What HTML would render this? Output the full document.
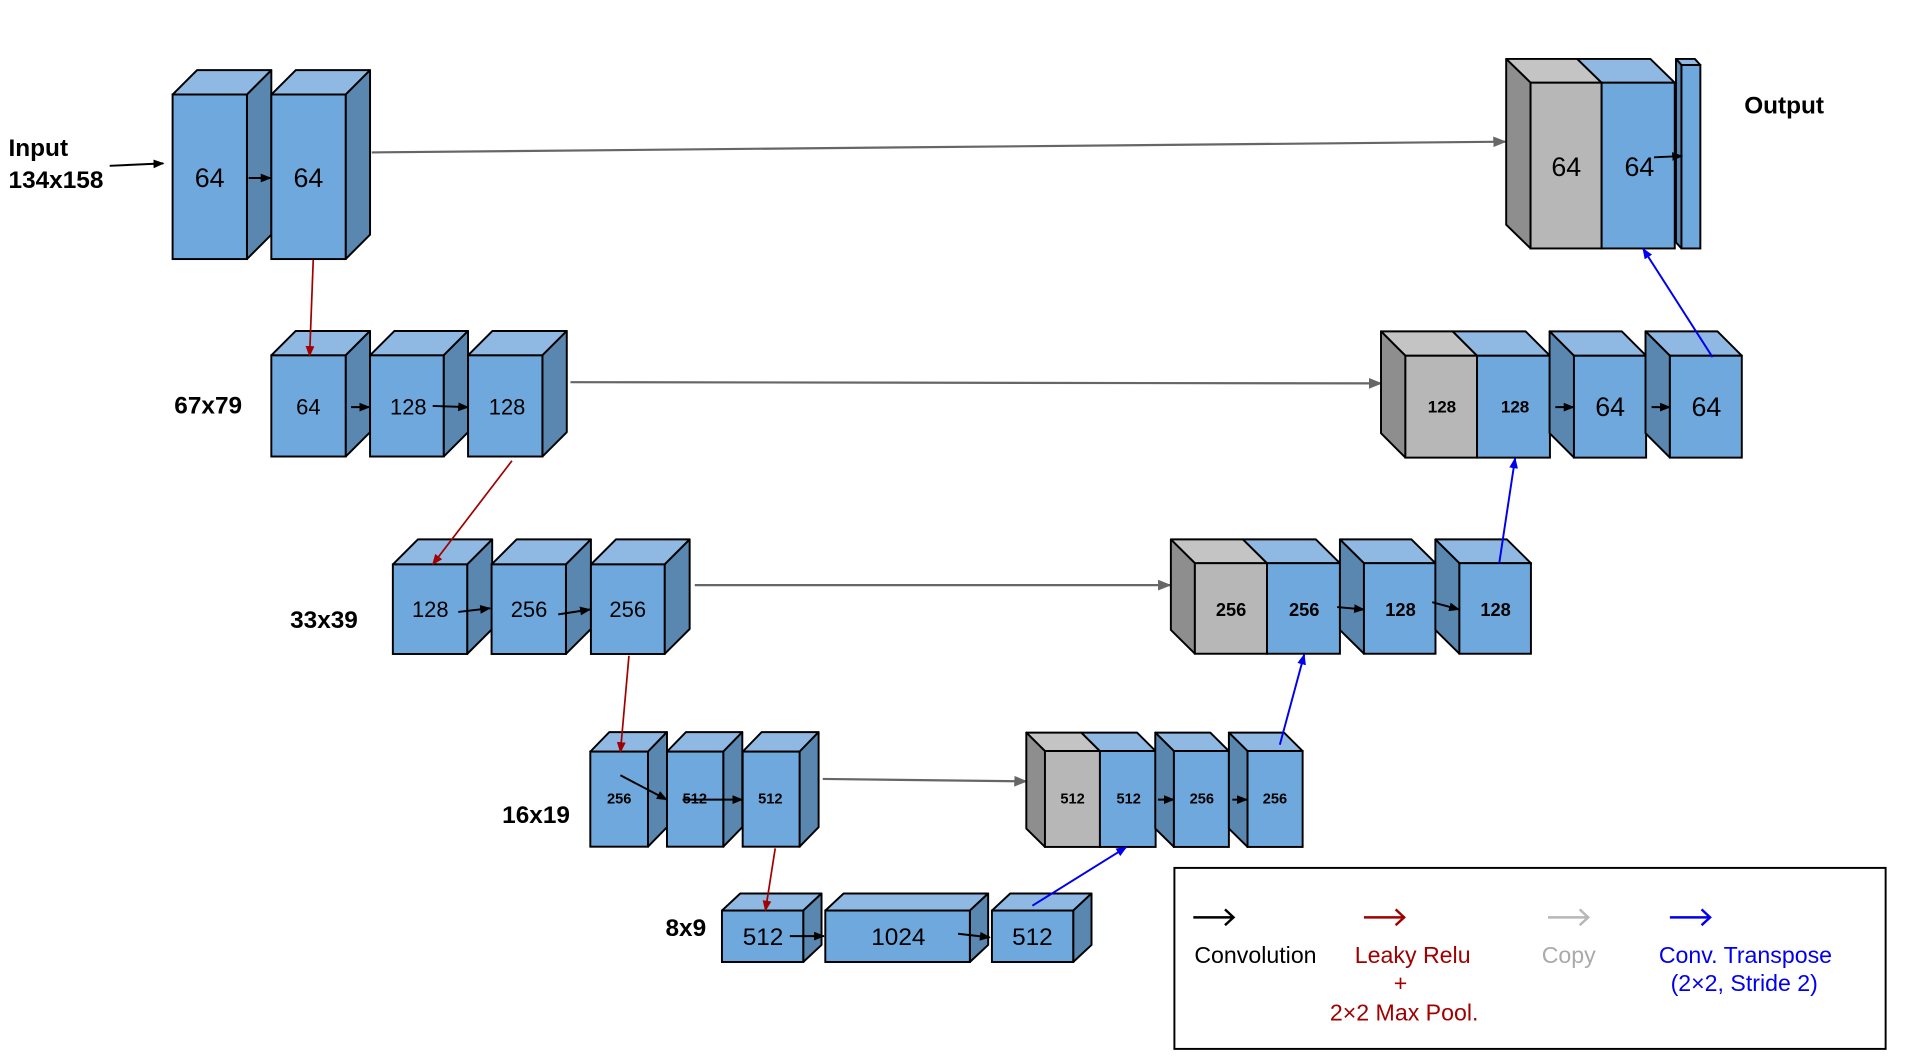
<!DOCTYPE html>
<html><head><meta charset="utf-8"><style>
html,body{margin:0;padding:0;background:#fff;}
svg{display:block;}
text{font-family:"Liberation Sans",Arial,sans-serif;}
.f{fill:#6fa8dc;stroke:#000;stroke-width:1.6;}
.t{fill:#8fb9e3;stroke:#000;stroke-width:1.6;stroke-linejoin:round;}
.s{fill:#5a87b0;stroke:#000;stroke-width:1.6;stroke-linejoin:round;}
.gf{fill:#b7b7b7;stroke:#000;stroke-width:1.6;}
.gt{fill:#c4c4c4;stroke:#000;stroke-width:1.6;stroke-linejoin:round;}
.gs{fill:#8e8e8e;stroke:#000;stroke-width:1.6;stroke-linejoin:round;}
.l{text-anchor:middle;dominant-baseline:central;fill:#000;}
.b{font-weight:bold;}
</style></head><body>
<svg width="1910" height="1062" viewBox="0 0 1567 871.2" xmlns="http://www.w3.org/2000/svg">
<defs>
<marker id="mk" viewBox="0 0 10 10" refX="9" refY="5" markerWidth="9" markerHeight="9" markerUnits="userSpaceOnUse" orient="auto"><path d="M0,1 L10,5 L0,9 z" fill="#000"/></marker>
<marker id="mr" viewBox="0 0 10 10" refX="9" refY="5" markerWidth="9" markerHeight="9" markerUnits="userSpaceOnUse" orient="auto"><path d="M0,1 L10,5 L0,9 z" fill="#a00000"/></marker>
<marker id="mb" viewBox="0 0 10 10" refX="9" refY="5" markerWidth="9" markerHeight="9" markerUnits="userSpaceOnUse" orient="auto"><path d="M0,1 L10,5 L0,9 z" fill="#0000ee"/></marker>
<marker id="mg" viewBox="0 0 10 10" refX="9" refY="5" markerWidth="11" markerHeight="11" markerUnits="userSpaceOnUse" orient="auto"><path d="M0,1 L10,5 L0,9 z" fill="#666"/></marker>
</defs>

<!-- copy arrows -->
<g stroke="#666" stroke-width="1.8" marker-end="url(#mg)">
<line x1="305" y1="125" x2="1235" y2="116.2"/>
<line x1="468" y1="313.5" x2="1133" y2="314.5"/>
<line x1="570" y1="480" x2="960" y2="480"/>
<line x1="675" y1="639" x2="842" y2="641"/>
</g>

<!-- Row 1 encoder -->
<polygon class="t" points="141.6,77.5 161.6,57.5 222.6,57.5 202.6,77.5"/>
<polygon class="s" points="202.6,77.5 222.6,57.5 222.6,192.5 202.6,212.5"/>
<rect class="f" x="141.6" y="77.5" width="61" height="135"/>
<polygon class="t" points="222.6,77.5 242.6,57.5 303.6,57.5 283.6,77.5"/>
<polygon class="s" points="283.6,77.5 303.6,57.5 303.6,192.5 283.6,212.5"/>
<rect class="f" x="222.6" y="77.5" width="61" height="135"/>
<text class="l" x="172" y="146" font-size="22">64</text>
<text class="l" x="253" y="146" font-size="22">64</text>

<!-- Row 2 encoder -->
<polygon class="t" points="222.6,291.5 242.6,271.5 303.6,271.5 283.6,291.5"/>
<polygon class="s" points="283.6,291.5 303.6,271.5 303.6,354.5 283.6,374.5"/>
<rect class="f" x="222.6" y="291.5" width="61" height="83"/>
<polygon class="t" points="303.6,291.5 323.6,271.5 384,271.5 364,291.5"/>
<polygon class="s" points="364,291.5 384,271.5 384,354.5 364,374.5"/>
<rect class="f" x="303.6" y="291.5" width="60.4" height="83"/>
<polygon class="t" points="384,291.5 404,271.5 465,271.5 445,291.5"/>
<polygon class="s" points="445,291.5 465,271.5 465,354.5 445,374.5"/>
<rect class="f" x="384" y="291.5" width="61" height="83"/>
<text class="l" x="253" y="334" font-size="18">64</text>
<text class="l" x="335" y="334" font-size="18">128</text>
<text class="l" x="416" y="334" font-size="18">128</text>

<!-- Row 3 encoder -->
<polygon class="t" points="322.3,463 342.8,442.5 403.8,442.5 383.3,463"/>
<polygon class="s" points="383.3,463 403.8,442.5 403.8,516 383.3,536.5"/>
<rect class="f" x="322.3" y="463" width="61" height="73.5"/>
<polygon class="t" points="403.3,463 423.8,442.5 484.8,442.5 464.3,463"/>
<polygon class="s" points="464.3,463 484.8,442.5 484.8,516 464.3,536.5"/>
<rect class="f" x="403.3" y="463" width="61" height="73.5"/>
<polygon class="t" points="484.8,463 505.3,442.5 565.8,442.5 545.3,463"/>
<polygon class="s" points="545.3,463 565.8,442.5 565.8,516 545.3,536.5"/>
<rect class="f" x="484.8" y="463" width="60.5" height="73.5"/>
<text class="l" x="353" y="500" font-size="18">128</text>
<text class="l" x="434" y="500" font-size="18">256</text>
<text class="l" x="515" y="500" font-size="18">256</text>

<!-- Row 4 encoder -->
<polygon class="t" points="484.3,616.6 499.9,600.6 547.2,600.6 531.6,616.6"/>
<polygon class="s" points="531.6,616.6 547.2,600.6 547.2,678.6 531.6,694.6"/>
<rect class="f" x="484.3" y="616.6" width="47.3" height="78"/>
<polygon class="t" points="547.2,616.6 562.8,600.6 609,600.6 593.4,616.6"/>
<polygon class="s" points="593.4,616.6 609,600.6 609,678.6 593.4,694.6"/>
<rect class="f" x="547.2" y="616.6" width="46.2" height="78"/>
<polygon class="t" points="609.3,616.6 624.9,600.6 671.6,600.6 656,616.6"/>
<polygon class="s" points="656,616.6 671.6,600.6 671.6,678.6 656,694.6"/>
<rect class="f" x="609.3" y="616.6" width="46.7" height="78"/>
<text class="l b" x="508" y="656" font-size="12">256</text>
<text class="l b" x="570" y="656" font-size="12">512</text>
<text class="l b" x="632" y="656" font-size="12">512</text>

<!-- Row 5 -->
<polygon class="t" points="592.3,747 607.3,733 674,733 659,747"/>
<polygon class="s" points="659,747 674,733 674,775.2 659,789.2"/>
<rect class="f" x="592.3" y="747" width="66.7" height="42.2"/>
<polygon class="t" points="677.1,747 692.1,733 810.7,733 795.7,747"/>
<polygon class="s" points="795.7,747 810.7,733 810.7,775.2 795.7,789.2"/>
<rect class="f" x="677.1" y="747" width="118.6" height="42.2"/>
<polygon class="t" points="813.8,747 828.8,733 895.5,733 880.5,747"/>
<polygon class="s" points="880.5,747 895.5,733 895.5,775.2 880.5,789.2"/>
<rect class="f" x="813.8" y="747" width="66.7" height="42.2"/>
<text class="l" x="626" y="769" font-size="20">512</text>
<text class="l" x="737" y="769" font-size="20">1024</text>
<text class="l" x="847" y="769" font-size="20">512</text>

<!-- Output block -->
<polygon class="gt" points="1255.7,67.8 1235.7,48.3 1294,48.3 1314,67.8"/>
<polygon class="gs" points="1255.7,67.8 1235.7,48.3 1235.7,184.3 1255.7,203.8"/>
<rect class="gf" x="1255.7" y="67.8" width="58.3" height="136"/>
<polygon class="t" points="1314,67.8 1294,48.3 1354,48.3 1374,67.8"/>
<rect class="f" x="1314" y="67.8" width="60" height="136"/>
<polygon class="t" points="1379.5,53.3 1375,48.3 1390.5,48.3 1395,53.3"/>
<polygon class="s" points="1379.5,53.3 1375,48.3 1375,198.8 1379.5,203.8"/>
<rect class="f" x="1379.5" y="53.3" width="15.5" height="150.5"/>
<text class="l" x="1285" y="137" font-size="22">64</text>
<text class="l" x="1345" y="137" font-size="22">64</text>
<text x="1431" y="93" font-size="20" class="b">Output</text>

<!-- Row 2 decoder -->
<polygon class="gt" points="1153,291.8 1133,271.8 1191.8,271.8 1211.8,291.8"/>
<polygon class="gs" points="1153,291.8 1133,271.8 1133,355.4 1153,375.4"/>
<rect class="gf" x="1153" y="291.8" width="58.8" height="83.6"/>
<polygon class="t" points="1211.8,291.8 1191.8,271.8 1251.6,271.8 1271.6,291.8"/>
<rect class="f" x="1211.8" y="291.8" width="59.8" height="83.6"/>
<polygon class="t" points="1291.3,291.8 1271.3,271.8 1330.5,271.8 1350.5,291.8"/>
<polygon class="s" points="1291.3,291.8 1271.3,271.8 1271.3,355.4 1291.3,375.4"/>
<rect class="f" x="1291.3" y="291.8" width="59.2" height="83.6"/>
<polygon class="t" points="1370,291.8 1350,271.8 1409,271.8 1429,291.8"/>
<polygon class="s" points="1370,291.8 1350,271.8 1350,355.4 1370,375.4"/>
<rect class="f" x="1370" y="291.8" width="59" height="83.6"/>
<text class="l b" x="1183" y="334" font-size="14">128</text>
<text class="l b" x="1243" y="334" font-size="14">128</text>
<text class="l" x="1321" y="334" font-size="22">64</text>
<text class="l" x="1400" y="334" font-size="22">64</text>

<!-- Row 3 decoder -->
<polygon class="gt" points="980.3,462 960.6,442.5 1019.8,442.5 1039.5,462"/>
<polygon class="gs" points="980.3,462 960.6,442.5 960.6,516.8 980.3,536.3"/>
<rect class="gf" x="980.3" y="462" width="59.2" height="74.3"/>
<polygon class="t" points="1039.5,462 1019.8,442.5 1079.6,442.5 1099.3,462"/>
<rect class="f" x="1039.5" y="462" width="59.8" height="74.3"/>
<polygon class="t" points="1119,462 1099.3,442.5 1158,442.5 1177.7,462"/>
<polygon class="s" points="1119,462 1099.3,442.5 1099.3,516.8 1119,536.3"/>
<rect class="f" x="1119" y="462" width="58.7" height="74.3"/>
<polygon class="t" points="1197.3,462 1177.6,442.5 1236.3,442.5 1256,462"/>
<polygon class="s" points="1197.3,462 1177.6,442.5 1177.6,516.8 1197.3,536.3"/>
<rect class="f" x="1197.3" y="462" width="58.7" height="74.3"/>
<text class="l b" x="1010" y="500" font-size="15">256</text>
<text class="l b" x="1070" y="500" font-size="15">256</text>
<text class="l b" x="1149" y="500" font-size="15">128</text>
<text class="l b" x="1227" y="500" font-size="15">128</text>

<!-- Row 4 decoder -->
<polygon class="gt" points="857.3,616.1 842,601 887.1,601 902.4,616.1"/>
<polygon class="gs" points="857.3,616.1 842,601 842,679.7 857.3,694.8"/>
<rect class="gf" x="857.3" y="616.1" width="45.1" height="78.7"/>
<polygon class="t" points="902.4,616.1 887.1,601 932.8,601 948.1,616.1"/>
<rect class="f" x="902.4" y="616.1" width="45.7" height="78.7"/>
<polygon class="t" points="963.1,616.1 947.8,601 992.9,601 1008.2,616.1"/>
<polygon class="s" points="963.1,616.1 947.8,601 947.8,679.7 963.1,694.8"/>
<rect class="f" x="963.1" y="616.1" width="45.1" height="78.7"/>
<polygon class="t" points="1023.5,616.1 1008.2,601 1053.4,601 1068.7,616.1"/>
<polygon class="s" points="1023.5,616.1 1008.2,601 1008.2,679.7 1023.5,694.8"/>
<rect class="f" x="1023.5" y="616.1" width="45.2" height="78.7"/>
<text class="l b" x="880" y="656" font-size="12">512</text>
<text class="l b" x="926" y="656" font-size="12">512</text>
<text class="l b" x="986" y="656" font-size="12">256</text>
<text class="l b" x="1046" y="656" font-size="12">256</text>

<!-- red arrows -->
<g stroke="#a00000" stroke-width="1.4" marker-end="url(#mr)">
<line x1="257" y1="213" x2="254" y2="292"/>
<line x1="420" y1="378" x2="355" y2="463"/>
<line x1="516" y1="538" x2="509" y2="617"/>
<line x1="636" y1="696" x2="628" y2="747"/>
</g>
<!-- blue arrows -->
<g stroke="#0000ee" stroke-width="1.6" marker-end="url(#mb)">
<line x1="847" y1="743" x2="924" y2="695"/>
<line x1="1050" y1="611" x2="1070" y2="537"/>
<line x1="1230" y1="462" x2="1243" y2="376"/>
<line x1="1405" y1="293" x2="1348" y2="204"/>
</g>
<!-- black conv arrows -->
<g stroke="#000" stroke-width="1.6" marker-end="url(#mk)">
<line x1="90" y1="136" x2="134" y2="134"/>
<line x1="204" y1="146" x2="222" y2="146"/>
<line x1="288" y1="334" x2="303" y2="334"/>
<line x1="355" y1="333" x2="384" y2="334"/>
<line x1="376" y1="502" x2="402" y2="499"/>
<line x1="458" y1="504" x2="484" y2="500"/>
<line x1="509" y1="636" x2="547" y2="656"/>
<line x1="560" y1="656" x2="609" y2="656"/>
<line x1="648" y1="768" x2="676" y2="768"/>
<line x1="786" y1="766" x2="812" y2="769"/>
<line x1="950" y1="656" x2="963" y2="656"/>
<line x1="1011" y1="656" x2="1023" y2="656"/>
<line x1="1097" y1="498" x2="1119" y2="500"/>
<line x1="1175" y1="494" x2="1197" y2="500"/>
<line x1="1276" y1="334" x2="1291" y2="334"/>
<line x1="1355" y1="334" x2="1370" y2="334"/>
<line x1="1357" y1="129" x2="1380" y2="128"/>
</g>

<!-- size labels -->
<text x="7" y="128" font-size="20" class="b">Input</text>
<text x="7" y="154" font-size="20" class="b">134x158</text>
<text x="143" y="339" font-size="20" class="b">67x79</text>
<text x="238" y="515" font-size="20" class="b">33x39</text>
<text x="412" y="675" font-size="20" class="b">16x19</text>
<text x="546" y="768" font-size="20" class="b">8x9</text>

<!-- legend -->
<rect x="963.5" y="712" width="583.5" height="148.5" fill="none" stroke="#000" stroke-width="1.6"/>
<g stroke-width="2" fill="none">
<path d="M979,752.6 H1012 M1005,746 L1012,752.6 L1005,759" stroke="#000"/>
<path d="M1119,752.6 H1152 M1145,746 L1152,752.6 L1145,759" stroke="#a00000"/>
<path d="M1270,752.6 H1303 M1296,746 L1303,752.6 L1296,759" stroke="#b7b7b7"/>
<path d="M1370,752.6 H1403 M1396,746 L1403,752.6 L1396,759" stroke="#0000ee"/>
</g>
<g font-size="19" text-anchor="middle">
<text x="1030" y="790" fill="#000">Convolution</text>
<text x="1159" y="790" fill="#a00000">Leaky Relu</text>
<text x="1149" y="813" fill="#a00000">+</text>
<text x="1152" y="837" fill="#a00000">2×2 Max Pool.</text>
<text x="1287" y="790" fill="#aaa">Copy</text>
<text x="1432" y="790" fill="#0000ee">Conv. Transpose</text>
<text x="1431" y="813" fill="#0000ee">(2×2, Stride 2)</text>
</g>
</svg>
</body></html>
